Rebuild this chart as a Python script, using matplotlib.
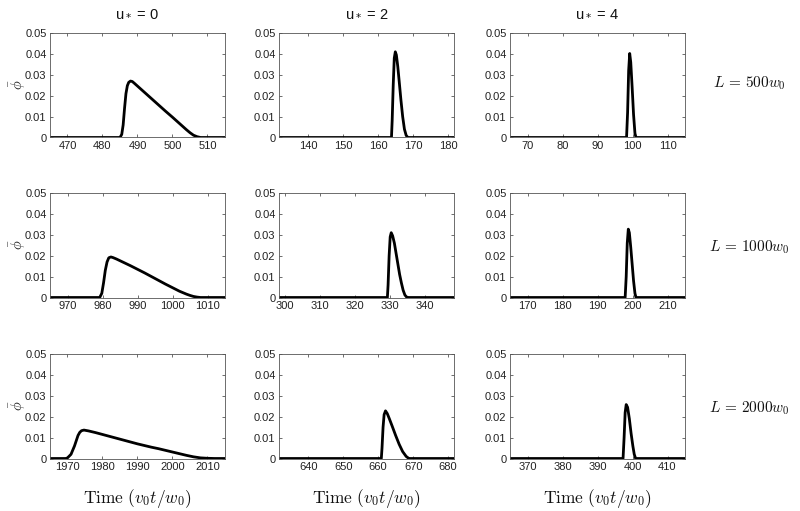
import matplotlib
matplotlib.use("Agg")
import matplotlib.pyplot as plt

plt.rcParams['font.family'] = ['Liberation Sans', 'DejaVu Sans']

# Column titles and row labels
col_titles = [r'u$_*$ = 0', r'u$_*$ = 2', r'u$_*$ = 4']
row_labels = [r'$L\,=\,500w_0$', r'$L\,=\,1000w_0$', r'$L\,=\,2000w_0$']
L_values = [500, 1000, 2000]
speed_div = [1, 3, 5]  # x-window centre = L / divisor

yticks = [0, 0.01, 0.02, 0.03, 0.04, 0.05]
ytick_labels = ['0', '0.01', '0.02', '0.03', '0.04', '0.05']

# ---- Row 1 (L = 500) ----
t_r1c1 = [465, 485.0, 485.5, 485.9, 486.3, 486.7, 487.1, 487.5, 488.0, 488.5, 489.0, 490, 492, 494, 496, 498, 500, 501, 502, 503, 504, 505, 506, 507, 508, 515]
p_r1c1 = [0, 0, 0.0015, 0.006, 0.014, 0.021, 0.0248, 0.0264, 0.0270, 0.0268, 0.0261, 0.0246, 0.0216, 0.0186, 0.0156, 0.0126, 0.0097, 0.0082, 0.0067, 0.0052, 0.0037, 0.0023, 0.0011, 0.0004, 0.0, 0]

t_r1c2 = [131.67, 163.8, 164.0, 164.3, 164.6, 164.9, 165.2, 165.6, 166.0, 166.5, 167.0, 167.5, 168.0, 168.5, 181.67]
p_r1c2 = [0, 0, 0.008, 0.025, 0.038, 0.041, 0.0395, 0.034, 0.027, 0.018, 0.010, 0.004, 0.001, 0, 0]

t_r1c3 = [65, 98.3, 98.6, 98.9, 99.2, 99.5, 99.9, 100.3, 100.7, 101.0, 115]
p_r1c3 = [0, 0, 0.012, 0.032, 0.0402, 0.036, 0.024, 0.011, 0.002, 0, 0]

# ---- Row 2 (L = 1000) ----
t_r2c1 = [965, 979.2, 979.8, 980.3, 980.8, 981.3, 981.8, 982.4, 983, 984, 986, 988, 990, 992, 994, 996, 998, 1000, 1002, 1004, 1005, 1006, 1007, 1008, 1015]
p_r2c1 = [0, 0, 0.002, 0.007, 0.013, 0.017, 0.0190, 0.0194, 0.0191, 0.0184, 0.0168, 0.0152, 0.0135, 0.0118, 0.0100, 0.0082, 0.0064, 0.0047, 0.0030, 0.0016, 0.0010, 0.0005, 0.0002, 0.0, 0]

t_r2c2 = [298.33, 329.3, 329.5, 329.8, 330.1, 330.4, 330.8, 331.3, 331.8, 332.3, 332.8, 333.3, 333.8, 334.3, 334.8, 335.3, 348.33]
p_r2c2 = [0, 0, 0.006, 0.020, 0.029, 0.031, 0.0295, 0.026, 0.021, 0.016, 0.011, 0.007, 0.0035, 0.0012, 0.0002, 0, 0]

t_r2c3 = [165, 197.9, 198.2, 198.5, 198.8, 199.1, 199.5, 199.9, 200.3, 200.7, 201.0, 215]
p_r2c3 = [0, 0, 0.010, 0.026, 0.0327, 0.031, 0.024, 0.016, 0.008, 0.002, 0, 0]

# ---- Row 3 (L = 2000) ----
t_r3c1 = [1965, 1969.5, 1970, 1971, 1972, 1972.5, 1973, 1973.5, 1974, 1974.7, 1976, 1978, 1980, 1982, 1984, 1986, 1988, 1990, 1992, 1994, 1996, 1998, 2000, 2002, 2004, 2006, 2008, 2010, 2012, 2015]
p_r3c1 = [0, 0, 0.0003, 0.002, 0.006, 0.0085, 0.0110, 0.0125, 0.0133, 0.0136, 0.0132, 0.0124, 0.0115, 0.0106, 0.0097, 0.0088, 0.0079, 0.0070, 0.0062, 0.0054, 0.0047, 0.0039, 0.0031, 0.0023, 0.0015, 0.0008, 0.0003, 0.0001, 0, 0]

t_r3c2 = [631.67, 660.9, 661.1, 661.4, 661.7, 662.1, 662.6, 663.2, 664, 665, 666, 667, 668, 668.7, 669, 681.67]
p_r3c2 = [0, 0, 0.005, 0.015, 0.021, 0.0228, 0.0215, 0.019, 0.0155, 0.011, 0.0068, 0.0033, 0.0010, 0.0001, 0, 0]

t_r3c3 = [365, 397.3, 397.6, 397.9, 398.2, 398.6, 399.1, 399.6, 400.1, 400.5, 400.9, 415]
p_r3c3 = [0, 0, 0.010, 0.022, 0.0258, 0.0245, 0.019, 0.012, 0.006, 0.002, 0, 0]

series = [
    [(t_r1c1, p_r1c1), (t_r1c2, p_r1c2), (t_r1c3, p_r1c3)],
    [(t_r2c1, p_r2c1), (t_r2c2, p_r2c2), (t_r2c3, p_r2c3)],
    [(t_r3c1, p_r3c1), (t_r3c2, p_r3c2), (t_r3c3, p_r3c3)],
]

W, H = 800, 511
fig = plt.figure(figsize=(W / 100, H / 100), dpi=100)

col_left = [50, 279, 510]
row_top = [33, 193, 354]
ax_w, ax_h = 175, 104.5

axis_color = '#555555'

for r in range(3):
    for c in range(3):
        left = col_left[c] / W
        bottom = 1 - (row_top[r] + ax_h) / H
        ax = fig.add_axes([left, bottom, ax_w / W, ax_h / H])
        t, p = series[r][c]
        ax.plot(t, p, color='black', lw=2.0, solid_joinstyle='round')
        centre = L_values[r] / speed_div[c]
        ax.set_xlim(centre - 35, centre + 15)
        ax.set_ylim(0, 0.05)
        ax.set_yticks(yticks)
        ax.set_yticklabels(ytick_labels)
        start = int((centre - 35) // 10 + 1) * 10
        xt = list(range(start, int(centre + 15) + 1, 10))
        ax.set_xticks(xt)
        ax.tick_params(direction='in', length=2.5, width=0.6, top=True, right=True,
                       labelsize=8, colors=axis_color, labelcolor='#222222', pad=2.5)
        for s in ax.spines.values():
            s.set_color(axis_color)
            s.set_linewidth(0.6)
        if c == 0:
            ax.set_ylabel(r'$\bar{\phi}$', fontsize=10.5, color='#222222',
                          math_fontfamily='cm', va='center', ha='center')
            ax.yaxis.set_label_coords(-32 / ax_w, 0.5)
        if r == 0:
            fig.text((col_left[c] + ax_w / 2) / W, 1 - 13 / H, col_titles[c],
                     ha='center', va='center', fontsize=10.5, color='#111111')
        if r == 2:
            fig.text((col_left[c] + ax_w / 2) / W, 1 - 498 / H, r'$\mathrm{Time}\ (v_0t/w_0)$',
                     ha='center', va='center', fontsize=12.5, color='#111111', math_fontfamily='cm')
    fig.text(749 / W, 1 - [83, 247, 408][r] / H, row_labels[r], ha='center', va='center',
             fontsize=11, color='#111111', math_fontfamily='cm')

fig.savefig('out.png', dpi=100)
